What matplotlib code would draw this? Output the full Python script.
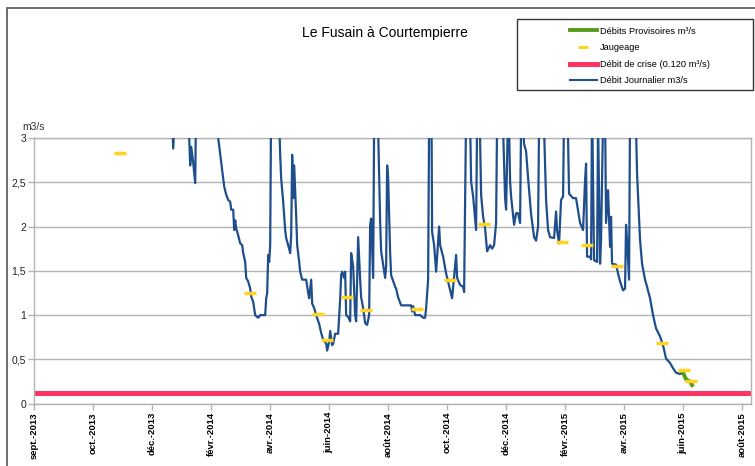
import pandas as pd
import matplotlib
matplotlib.use("Agg")
import matplotlib.pyplot as plt
from matplotlib.patches import Rectangle
from matplotlib.lines import Line2D

plt.rcParams['font.family'] = ['Liberation Sans', 'DejaVu Sans']

# jours comptés depuis le 1er septembre 2013
DEBUT = pd.Timestamp('2013-09-01')

jours_debit = [132, 137, 139, 141, 146, 153, 155, 156, 157, 159, 161, 162, 169, 178,
               184, 187, 190, 192, 194, 196, 197, 199, 200, 201, 202, 204, 206, 208,
               209, 211, 212, 214, 216, 217, 219, 221, 224, 226, 231, 232, 233, 234,
               235, 236, 237, 241, 245, 246, 247, 249, 251, 252, 254, 256, 257, 258,
               259, 260, 262, 263, 265, 266, 268, 272, 274, 275, 277, 278, 280, 282,
               285, 287, 289, 292, 293, 295, 296, 298, 299, 301, 304, 306, 307, 308,
               310, 311, 312, 314, 316, 317, 319, 321, 322, 324, 326, 327, 329, 331,
               333, 335, 336, 337, 339, 340, 342, 344, 346, 347, 351, 352, 353, 354,
               356, 357, 361, 362, 364, 367, 377, 378, 379, 381, 386, 389, 391, 392,
               394, 395, 397, 398, 400, 402, 405, 406, 409, 412, 416, 418, 422, 423,
               426, 429, 430, 432, 434, 436, 437, 439, 442, 443, 445, 446, 447, 449,
               451, 453, 456, 458, 460, 462, 463, 466, 469, 471, 472, 474, 475, 476,
               477, 480, 482, 484, 486, 487, 488, 490, 492, 494, 497, 500, 502, 504,
               505, 508, 510, 512, 514, 516, 520, 522, 523, 525, 527, 529, 530, 533,
               535, 539, 542, 546, 549, 551, 552, 553, 556, 557, 558, 560, 563, 564,
               566, 567, 569, 571, 572, 574, 576, 577, 578, 582, 584, 586, 589, 591,
               592, 593, 595, 596, 599, 602, 603, 606, 608, 611, 613, 616, 619, 622,
               626, 629, 632, 636, 639, 642, 646, 649]
debit = [3.8, 3.4, 2.88, 3.4, 4.0, 3.5, 3.0, 2.69, 2.9, 2.72, 2.49, 3.5, 4.2, 3.8,
         3.0, 2.73, 2.45, 2.36, 2.30, 2.28, 2.19, 2.19, 1.96, 2.07, 1.98, 1.90, 1.81, 1.79,
         1.70, 1.60, 1.42, 1.38, 1.30, 1.21, 1.15, 1.0, 0.97, 1.0, 1.0, 1.19, 1.25, 1.68,
         1.60, 1.79, 3.5, 4.5, 3.2, 2.81, 2.54, 2.28, 1.96, 1.87, 1.79, 1.70, 1.90, 2.81,
         2.32, 2.69, 2.12, 1.79, 1.60, 1.49, 1.40, 1.40, 1.25, 1.19, 1.40, 1.13, 1.08, 1.0,
         0.90, 0.80, 0.72, 0.68, 0.60, 0.70, 0.82, 0.66, 0.68, 0.79, 0.79, 1.18, 1.45, 1.49,
         1.42, 1.49, 1.0, 0.98, 0.93, 1.70, 1.55, 1.0, 0.93, 1.88, 1.40, 1.20, 1.08, 0.91,
         0.89, 1.0, 2.02, 2.09, 1.42, 3.2, 4.0, 3.1, 2.05, 1.72, 1.42, 1.55, 2.69, 2.55,
         1.70, 1.45, 1.32, 1.30, 1.20, 1.11, 1.11, 1.04, 1.10, 1.0, 1.0, 0.97, 0.97, 1.08,
         1.40, 3.2, 4.0, 1.94, 1.79, 1.49, 2.0, 1.79, 1.66, 1.47, 1.28, 1.19, 1.68, 1.42,
         1.34, 1.32, 1.26, 3.3, 4.0, 3.2, 2.51, 2.34, 1.96, 3.2, 3.6, 3.0, 2.36, 2.11,
         1.98, 1.72, 1.79, 1.75, 1.79, 2.04, 3.2, 3.8, 3.1, 2.32, 2.19, 3.3, 3.1, 2.51,
         2.34, 2.02, 2.15, 2.15, 2.04, 3.2, 3.3, 2.93, 2.85, 2.55, 2.14, 1.88, 1.84, 2.0,
         3.2, 4.0, 3.1, 2.3, 1.96, 1.88, 1.87, 2.17, 1.96, 1.81, 2.30, 2.34, 3.3, 3.6,
         2.37, 2.32, 2.32, 2.04, 1.96, 2.52, 2.71, 1.66, 1.66, 1.63, 3.4, 1.62, 1.60, 3.2,
         1.58, 1.85, 3.2, 3.3, 2.04, 2.41, 1.77, 2.11, 1.58, 1.57, 1.47, 1.38, 1.28, 1.30,
         2.02, 1.85, 1.40, 3.3, 4.0, 3.1, 2.60, 1.85, 1.58, 1.40, 1.32, 1.19, 1.0, 0.85,
         0.76, 0.66, 0.51, 0.46, 0.40, 0.35, 0.335, 0.35]

jours_prov = [649, 652, 656, 658]
debit_prov = [0.35, 0.275, 0.25, 0.21]

jours_jaug = [86, 216, 284, 293, 313, 332, 383, 416, 450, 528, 553, 583, 628, 650, 657]
jaugeage = [2.835, 1.25, 1.016, 0.72, 1.20, 1.06, 1.07, 1.40, 2.025, 1.825, 1.795,
            1.56, 0.69, 0.377, 0.26]

debit_crise = 0.120

mois_labels = ['sept.-2013', 'oct.-2013', 'déc.-2013', 'févr.-2014', 'avr.-2014',
               'juin-2014', 'août-2014', 'oct.-2014', 'déc.-2014', 'févr.-2015',
               'avr.-2015', 'juin-2015', 'août-2015']
y_labels = ['0', '0,5', '1', '1,5', '2', '2,5', '3']


def to_dates(jours):
    return DEBUT + pd.to_timedelta(jours, unit='D')


BLEU = '#1f4e8c'
VERT = '#579d1c'
JAUNE = '#ffd320'
ROUGE = '#ff3366'
GRIS = '#b3b3b3'

fig = plt.figure(figsize=(7.55, 4.66), dpi=100)
ax = fig.add_axes([0.0454, 0.1337, 0.9493, 0.5703])

ax.axhline(debit_crise, color=ROUGE, lw=3.6, zorder=2)
ax.plot(to_dates(jours_debit), debit, color=BLEU, lw=1.6, zorder=3)
ax.plot(to_dates(jours_prov), debit_prov, color=VERT, lw=2.8, zorder=4)
ax.plot(to_dates(jours_jaug), jaugeage, ls='none', marker='_', ms=8, mew=2.5,
        color=JAUNE, zorder=5)

ax.set_xlim(DEBUT, DEBUT + pd.Timedelta(days=717))
ax.set_ylim(0, 3)

ax.set_xticks(to_dates([59 * k for k in range(len(mois_labels))]))
ax.set_xticklabels(mois_labels, rotation=90, fontsize=6.8, fontweight='bold')
ax.set_yticks([0.5 * k for k in range(len(y_labels))])
ax.set_yticklabels(y_labels, fontsize=7.5, color='#222222')
ax.tick_params(axis='both', color=GRIS, length=4, width=1, pad=2)
ax.grid(axis='y', color=GRIS, lw=1)
ax.set_axisbelow(True)
for s in ax.spines.values():
    s.set_color(GRIS)
    s.set_linewidth(1)

fig.text(385 / 755, 1 - 33 / 466, 'Le Fusain à Courtempierre', ha='center', va='center',
         fontsize=10)
fig.text(22 / 755, 1 - 127 / 466, 'm3/s', ha='left', va='center', fontsize=7.5,
         color='#333333')

# cadre du graphique et de la légende
fig.add_artist(Rectangle((7 / 755, -0.05), 1.0, 1.05 - 8 / 466, transform=fig.transFigure,
                         fill=False, ec='#555555', lw=1.2))
fig.add_artist(Rectangle((516.7 / 755, 1 - 90 / 466), 236.3 / 755, 70.7 / 466,
                         transform=fig.transFigure, fill=False, ec='#333333', lw=1))

handles = [Line2D([], [], color=VERT, lw=2.8),
           Line2D([], [], ls='none', marker='_', ms=7, mew=2.2, color=JAUNE),
           Line2D([], [], color=ROUGE, lw=3.6),
           Line2D([], [], color=BLEU, lw=1.5)]
labels = ['Débits Provisoires m³/s', 'Jaugeage', 'Débit de crise (0.120 m³/s)',
          'Débit Journalier m3/s']
fig.legend(handles, labels, loc='upper left', bbox_to_anchor=(570 / 755, 1 - 26.5 / 466),
           frameon=False, fontsize=6.7, handlelength=2.9, handletextpad=0.3,
           labelspacing=0.82, borderpad=0, borderaxespad=0)

plt.savefig('out.png', dpi=100)
plt.close(fig)
